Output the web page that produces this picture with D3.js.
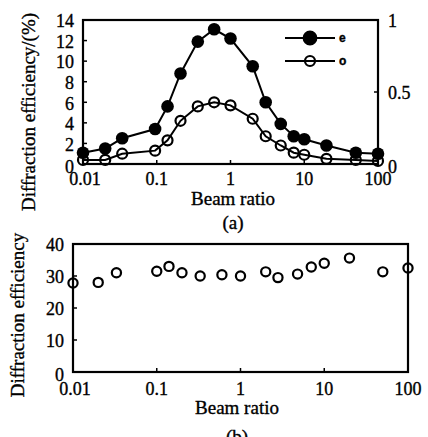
<!DOCTYPE html>
<html>
<head>
<meta charset="utf-8">
<script src="https://d3js.org/d3.v7.min.js"></script>
<style>
  body { margin: 0; background: #fff; }
  text { font-family: "Liberation Serif", "DejaVu Serif", serif; fill: #000; stroke: #000; stroke-width: 0.35px; }
</style>
</head>
<body>
<script>
// beam ratios shared by both panels
const beamRatio = [0.01, 0.02, 0.034, 0.095, 0.14, 0.21, 0.36, 0.6, 1, 2, 3, 4.8, 7.2, 10, 20, 50, 100];
// panel (a): diffraction efficiency (%) of e and o light
const effE = [1.1, 1.5, 2.5, 3.4, 5.6, 8.8, 11.9, 13.1, 12.2, 9.5, 6.0, 3.9, 2.7, 2.4, 1.8, 1.1, 1.0];
const effO = [0.4, 0.4, 1.0, 1.3, 2.3, 4.2, 5.6, 6.0, 5.7, 4.4, 2.7, 1.8, 1.1, 0.9, 0.5, 0.4, 0.3];
// panel (b)
const beamRatioB = [0.01, 0.02, 0.033, 0.1, 0.14, 0.2, 0.33, 0.6, 1, 2, 2.8, 4.8, 7, 10, 20, 50, 100];
const effB = [27.8, 28, 31, 31.5, 33, 31, 30, 30.4, 30, 31.3, 29.5, 30.6, 32.8, 34, 35.6, 31.3, 32.5];

const xTicks = [0.01, 0.1, 1, 10, 100];
const xTickLabels = ["0.01", "0.1", "1", "10", "100"];
const yTicksA = [0, 2, 4, 6, 8, 10, 12, 14];
const yTicksARight = [0, 0.5, 1];
const yTicksB = [0, 10, 20, 30, 40];

const svg = d3.select("body").append("svg")
    .attr("width", 428)
    .attr("height", 437);

function frame(g, x, y) {
    const [x0, x1] = x.range();
    const [y0, y1] = y.range();
    g.append("rect")
        .attr("x", x0).attr("y", y1)
        .attr("width", x1 - x0).attr("height", y0 - y1)
        .attr("fill", "none").attr("stroke", "#000").attr("stroke-width", 2.2);
}

function xAxis(g, x, y, dyLabel) {
    const y0 = y.range()[0];
    xTicks.forEach((t, i) => {
        g.append("line")
            .attr("x1", x(t)).attr("x2", x(t))
            .attr("y1", y0).attr("y2", y0 - 4)
            .attr("stroke", "#000").attr("stroke-width", 1.5);
        g.append("text")
            .attr("x", x(t) + (i == 0 ? 2 : 0))
            .attr("y", y0 + dyLabel)
            .attr("text-anchor", "middle")
            .attr("font-size", "18px")
            .text(xTickLabels[i]);
    });
}

function yAxis(g, x, y, ticks, side, labelX) {
    const ax = side == "left" ? x.range()[0] : x.range()[1];
    const dir = side == "left" ? 1 : -1;
    ticks.forEach(t => {
        g.append("line")
            .attr("x1", ax).attr("x2", ax + dir * 4)
            .attr("y1", y(t)).attr("y2", y(t))
            .attr("stroke", "#000").attr("stroke-width", 1.5);
        g.append("text")
            .attr("x", labelX)
            .attr("y", y(t) + (t == 0 ? 3 : 1))
            .attr("dy", "0.35em")
            .attr("text-anchor", side == "left" ? "end" : "start")
            .attr("font-size", "18px")
            .text(t);
    });
}

// ---------- panel (a) ----------
const xA = d3.scaleLog().domain([0.01, 100]).range([83, 378]);
const yA = d3.scaleLinear().domain([0, 14]).range([164, 20]);
const yAR = d3.scaleLinear().domain([0, 1]).range([164, 20]);

const gA = svg.append("g");
frame(gA, xA, yA);
xAxis(gA, xA, yA, 21);
yAxis(gA, xA, yA, yTicksA, "left", 74);
yAxis(gA, xA, yAR, yTicksARight, "right", 388);

const line = d3.line().x((d, i) => xA(beamRatio[i])).y(d => yA(d));

gA.append("path").datum(effO)
    .attr("d", line).attr("fill", "none")
    .attr("stroke", "#000").attr("stroke-width", 2);
gA.selectAll(".o").data(effO).join("circle")
    .attr("cx", (d, i) => xA(beamRatio[i])).attr("cy", d => yA(d))
    .attr("r", 5).attr("fill", "none")
    .attr("stroke", "#000").attr("stroke-width", 2.2);

gA.append("path").datum(effE)
    .attr("d", line).attr("fill", "none")
    .attr("stroke", "#000").attr("stroke-width", 2);
gA.selectAll(".e").data(effE).join("circle")
    .attr("cx", (d, i) => xA(beamRatio[i])).attr("cy", d => yA(d))
    .attr("r", 6.3).attr("fill", "#000");

// legend
const legend = [{ name: "e", filled: true }, { name: "o", filled: false }];
legend.forEach((d, i) => {
    const ly = 38 + i * 23;
    gA.append("line").attr("x1", 285).attr("x2", 335)
        .attr("y1", ly).attr("y2", ly)
        .attr("stroke", "#000").attr("stroke-width", 2);
    gA.append("circle").attr("cx", 310).attr("cy", ly)
        .attr("r", d.filled ? 6.3 : 5)
        .attr("fill", d.filled ? "#000" : "none")
        .attr("stroke", "#000").attr("stroke-width", 2.2);
    gA.append("text").attr("x", 339).attr("y", ly).attr("dy", "0.35em")
        .attr("font-size", "12px").attr("font-weight", "bold")
        .style("font-family", "'Liberation Sans', sans-serif")
        .text(d.name);
});

gA.append("text")
    .attr("transform", "translate(35,112) rotate(-90)")
    .attr("text-anchor", "middle").attr("font-size", "19px")
    .text("Diffraction efficiency/(%)");
gA.append("text").attr("x", 233).attr("y", 205)
    .attr("text-anchor", "middle").attr("font-size", "19px")
    .text("Beam ratio");
gA.append("text").attr("x", 233).attr("y", 229)
    .attr("text-anchor", "middle").attr("font-size", "19px")
    .text("(a)");

// ---------- panel (b) ----------
const xB = d3.scaleLog().domain([0.01, 100]).range([73, 408]);
const yB = d3.scaleLinear().domain([0, 40]).range([372, 244]);

const gB = svg.append("g");
frame(gB, xB, yB);
xAxis(gB, xB, yB, 23);
yAxis(gB, xB, yB, yTicksB, "left", 64);

gB.selectAll(".b").data(effB).join("circle")
    .attr("cx", (d, i) => xB(beamRatioB[i])).attr("cy", d => yB(d))
    .attr("r", 4.6).attr("fill", "none")
    .attr("stroke", "#000").attr("stroke-width", 2.2);

gB.append("text")
    .attr("transform", "translate(24,315) rotate(-90)")
    .attr("text-anchor", "middle").attr("font-size", "19px")
    .text("Diffraction efficiency");
gB.append("text").attr("x", 237).attr("y", 414)
    .attr("text-anchor", "middle").attr("font-size", "19px")
    .text("Beam ratio");
gB.append("text").attr("x", 237).attr("y", 443)
    .attr("text-anchor", "middle").attr("font-size", "19px")
    .text("(b)");
</script>
</body>
</html>
